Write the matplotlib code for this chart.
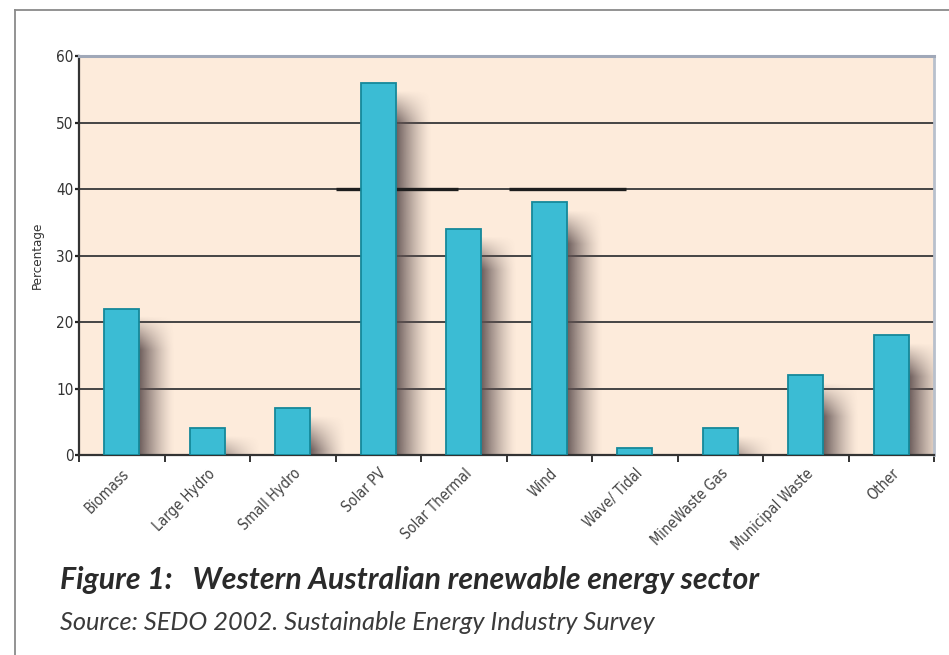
import numpy as np
import matplotlib
matplotlib.use("Agg")
import matplotlib.pyplot as plt
from matplotlib.lines import Line2D

categories = ["Biomass", "Large Hydro", "Small Hydro", "Solar PV", "Solar Thermal",
              "Wind", "Wave/ Tidal", "MineWaste Gas", "Municipal Waste", "Other"]
values = [22, 4, 7, 56, 34, 38, 1, 4, 12, 18]
yticks = [0, 10, 20, 30, 40, 50, 60]

W, H = 949, 655
fig = plt.figure(figsize=(W / 100, H / 100), dpi=100)
fig.patch.set_facecolor("white")

# outer frame lines
fig.add_artist(Line2D([15 / W, 15 / W], [0, 1 - 10 / H], transform=fig.transFigure,
                      color="#8a8a8a", lw=1.3))
fig.add_artist(Line2D([15 / W, 1], [1 - 10 / H, 1 - 10 / H], transform=fig.transFigure,
                      color="#8a8a8a", lw=1.3))

ax = fig.add_axes([79 / W, 1 - 455 / H, (934 - 79) / W, (455 - 56) / H])
ax.set_facecolor("#fdebdb")

x = np.arange(len(categories))
bw = 0.41

# gridlines
for t in yticks[1:-1]:
    ax.axhline(t, color="#444444", lw=1.4, zorder=1)

# odd heavy segments on the 40 line
ax.plot([x[3] - 0.5, x[3] + 0.93], [40, 40], color="#1e1e1e", lw=2.4, zorder=1.5,
        solid_capstyle="butt")
ax.plot([x[5] - 0.47, x[5] + 0.9], [40, 40], color="#1e1e1e", lw=2.4, zorder=1.5,
        solid_capstyle="butt")

# shadows
nx, ny = 60, 200
gx = np.linspace(0, 1, nx)
shadow_rgb = np.array([95, 80, 80]) / 255.0
for xi, v in zip(x, values):
    x0 = xi + bw / 2
    sw = bw * 1.0
    top = v - 1.2
    if top <= 0:
        continue
    gy = np.linspace(0, 1, ny)
    ax_alpha = (1 - gx) ** 1.4
    fade_units = 5.0
    yv = gy * top
    vfade = np.clip((top - yv) / fade_units, 0, 1)
    alpha = 0.92 * np.outer(vfade, ax_alpha)
    img = np.zeros((ny, nx, 4))
    img[..., :3] = shadow_rgb
    img[..., 3] = alpha
    ax.imshow(img, extent=[x0, x0 + sw, 0, top], origin="lower", aspect="auto",
              zorder=1.2, interpolation="bilinear")

ax.bar(x, values, width=bw, color="#3bbcd4", edgecolor="#15889a", linewidth=1.3, zorder=3)

ax.set_xlim(-0.5, len(categories) - 0.5)
ax.set_ylim(0, 60)

# spines
ax.spines["left"].set_color("#333333")
ax.spines["left"].set_linewidth(1.6)
ax.spines["bottom"].set_color("#333333")
ax.spines["bottom"].set_linewidth(1.6)
ax.spines["top"].set_color("#a0a8b8")
ax.spines["top"].set_linewidth(2.2)
ax.spines["right"].set_color("#b8c0cc")
ax.spines["right"].set_linewidth(2.0)

lab_font = dict(family="DejaVu Sans", stretch="condensed")

ax.set_yticks(yticks)
ax.set_yticklabels([str(t) for t in yticks], fontsize=11, color="#333333", **lab_font)
ax.tick_params(axis="y", length=3, width=1.6, color="#222222", pad=1)

ax.set_xticks(np.arange(len(categories) + 1) - 0.5, minor=True)
ax.set_xticks(x)
ax.set_xticklabels(categories, rotation=45, ha="right", rotation_mode="anchor",
                   fontsize=10.5, color="#444444", **lab_font)
ax.tick_params(axis="x", which="major", length=0, pad=8)
ax.tick_params(axis="x", which="minor", length=5, width=1.4, color="#333333")

ax.set_ylabel("Percentage", fontsize=9.5, color="#333333", labelpad=9, **lab_font)

fig.text(60 / W, 1 - 580 / H, "Figure 1:   Western Australian renewable energy sector",
         fontsize=21.8, fontstyle="italic", fontweight="bold", color="#2a2a2a",
         family="Lato", va="center", ha="left")
fig.text(60 / W, 1 - 623 / H, "Source: SEDO 2002. Sustainable Energy Industry Survey",
         fontsize=18.3, fontstyle="italic", color="#3a3a3a", family="Lato",
         va="center", ha="left")

fig.savefig("out.png", dpi=100)
